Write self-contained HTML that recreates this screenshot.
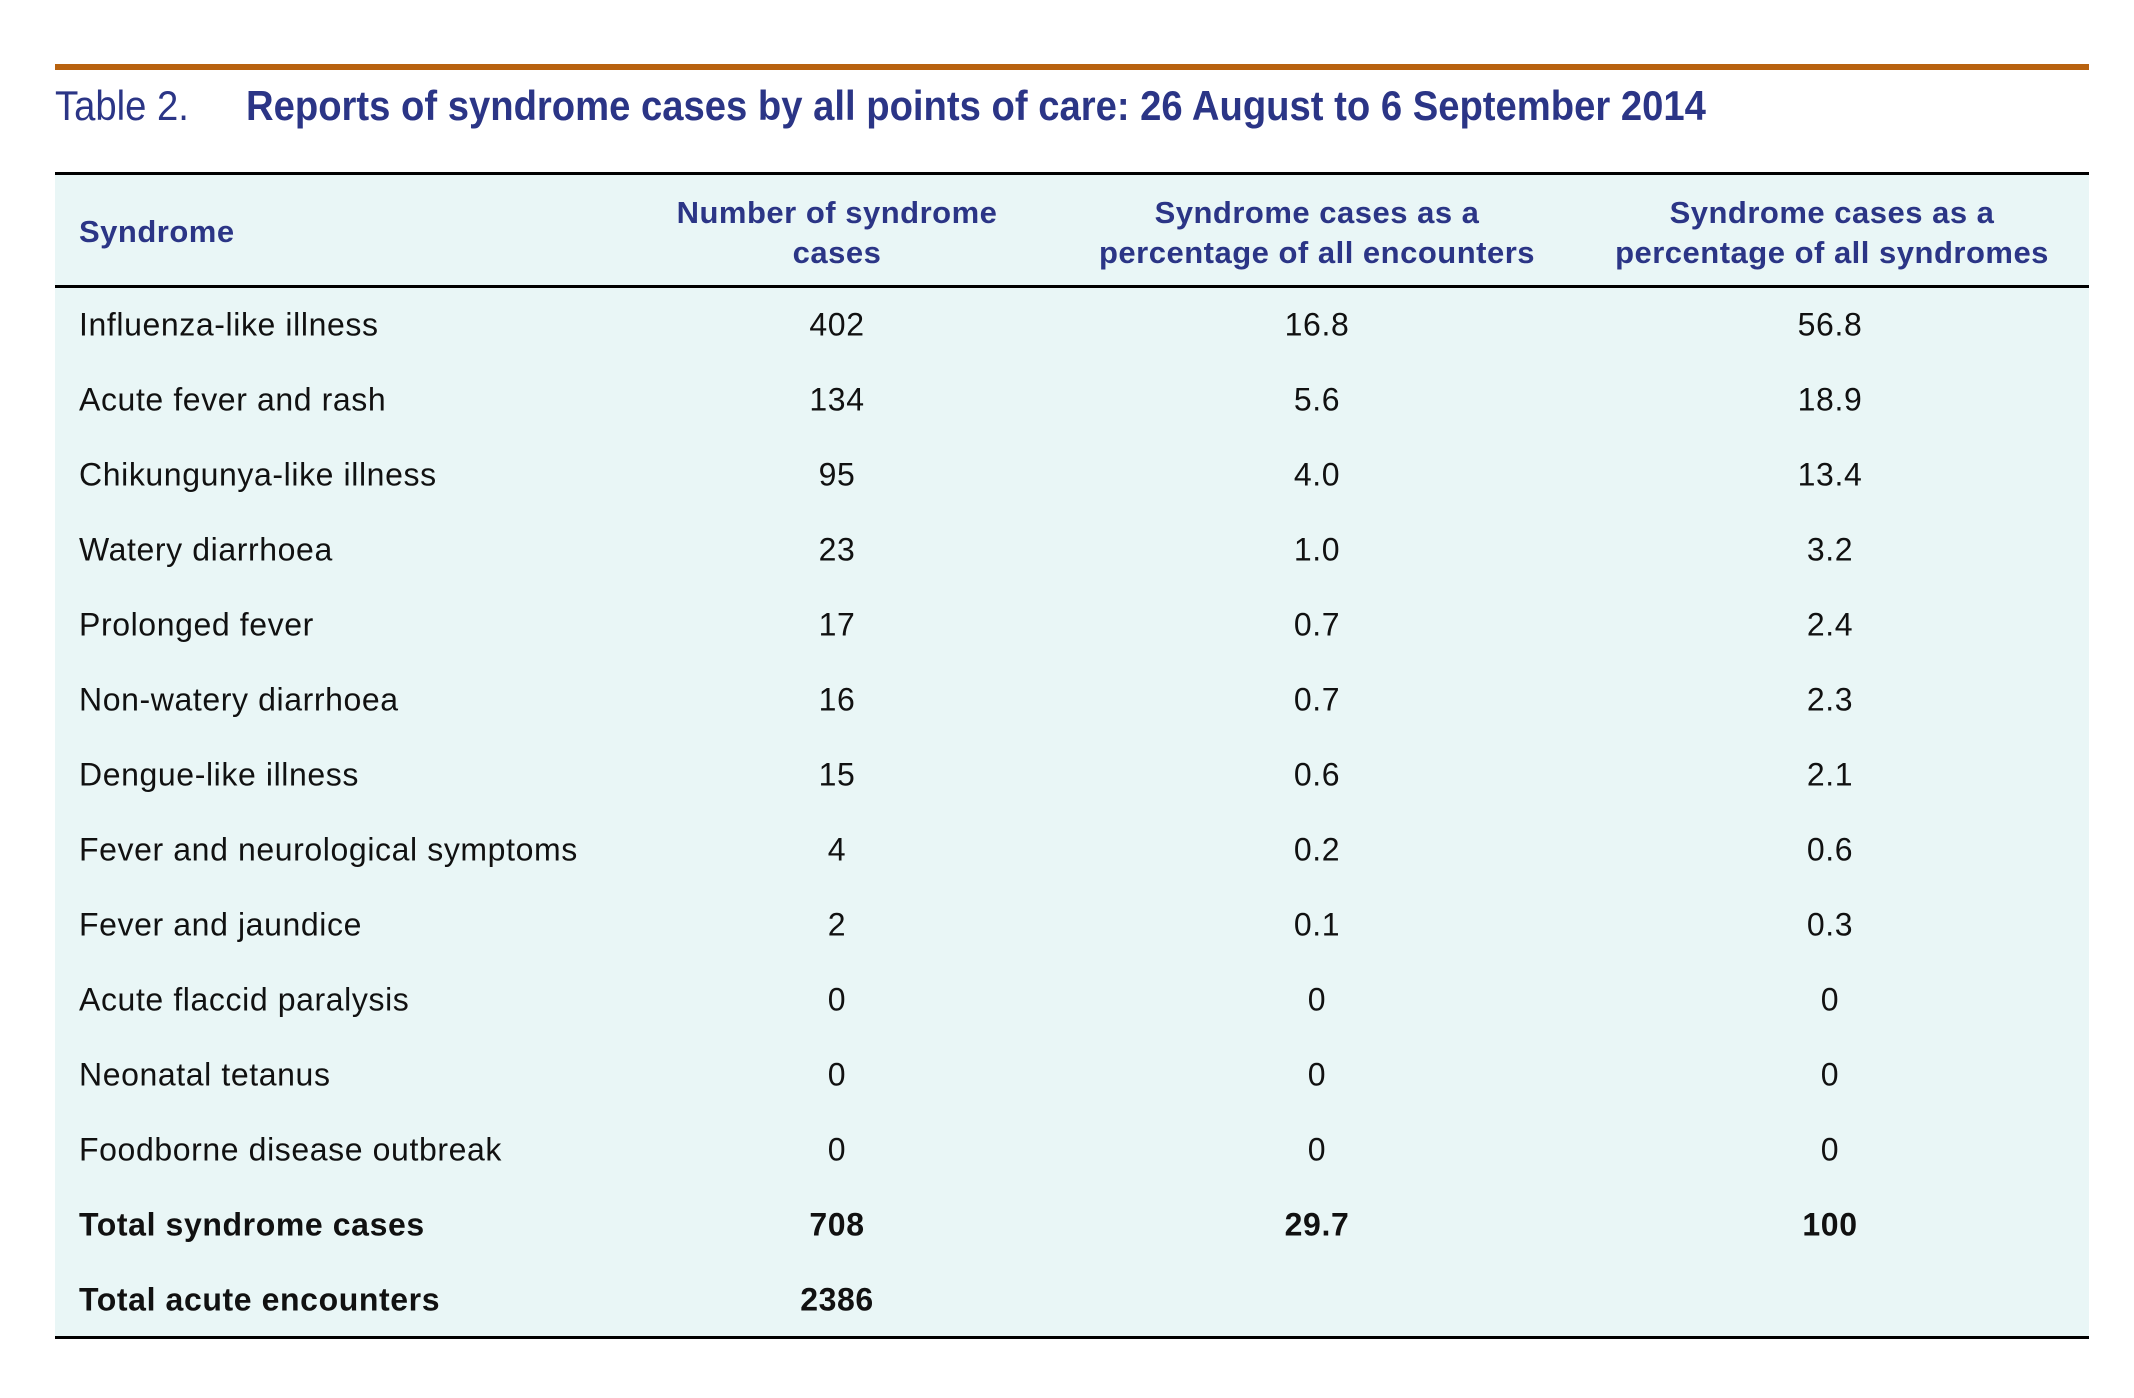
<!DOCTYPE html>
<html><head><meta charset="utf-8"><style>
body{margin:0;width:2134px;height:1398px;background:#fff;position:relative;font-family:"Liberation Sans",Arial,sans-serif;overflow:hidden}
.abs{position:absolute;white-space:nowrap}
.c{transform:translate(-50%,-50%)}
.l{transform:translateY(-50%)}
.b{font-size:32px;color:#111;letter-spacing:0.6px}
.h{font-size:31px;color:#2b3586;font-weight:bold;text-align:center;line-height:40px;letter-spacing:0.5px}
.t{font-weight:bold}
</style></head><body>
<div class="abs" style="left:55px;top:64px;width:2034px;height:6px;background:#b8620f"></div>
<div class="abs" style="left:55px;top:84px;font-size:42px;color:#2b3586;line-height:44px;transform:scaleX(0.91);transform-origin:0 0">Table 2.</div>
<div class="abs" style="left:246px;top:84px;font-size:42px;color:#2b3586;font-weight:bold;line-height:44px;transform:scaleX(0.91);transform-origin:0 0">Reports of syndrome cases by all points of care: 26 August to 6 September 2014</div>
<div class="abs" style="left:55px;top:174px;width:2034px;height:1163px;background:#e9f6f6"></div>
<div class="abs" style="left:55px;top:172px;width:2034px;height:3px;background:#000"></div>
<div class="abs" style="left:55px;top:285px;width:2034px;height:3px;background:#000"></div>
<div class="abs" style="left:55px;top:1336px;width:2034px;height:3px;background:#000"></div>
<div class="abs h l" style="left:79px;top:232px;text-align:left">Syndrome</div>
<div class="abs h c" style="left:837px;top:233px">Number of syndrome<br>cases</div>
<div class="abs h c" style="left:1317px;top:233px">Syndrome cases as a<br>percentage of all encounters</div>
<div class="abs h c" style="left:1832px;top:233px">Syndrome cases as a<br>percentage of all syndromes</div>
<div id="rows"></div>
<script>
var d=[["Influenza-like illness","402","16.8","56.8"],["Acute fever and rash","134","5.6","18.9"],["Chikungunya-like illness","95","4.0","13.4"],["Watery diarrhoea","23","1.0","3.2"],["Prolonged fever","17","0.7","2.4"],["Non-watery diarrhoea","16","0.7","2.3"],["Dengue-like illness","15","0.6","2.1"],["Fever and neurological symptoms","4","0.2","0.6"],["Fever and jaundice","2","0.1","0.3"],["Acute flaccid paralysis","0","0","0"],["Neonatal tetanus","0","0","0"],["Foodborne disease outbreak","0","0","0"],["Total syndrome cases","708","29.7","100"],["Total acute encounters","2386","",""]];
var h="";d.forEach(function(r,i){var y=325+i*75;var cl=i>=12?" t":"";
h+='<div class="abs b l'+cl+'" style="left:79px;top:'+y+'px">'+r[0]+'</div>';
[837,1317,1830].forEach(function(x,j){if(r[j+1])h+='<div class="abs b c'+cl+'" style="left:'+x+'px;top:'+y+'px">'+r[j+1]+'</div>';});});
document.getElementById("rows").innerHTML=h;
</script>
</body></html>
